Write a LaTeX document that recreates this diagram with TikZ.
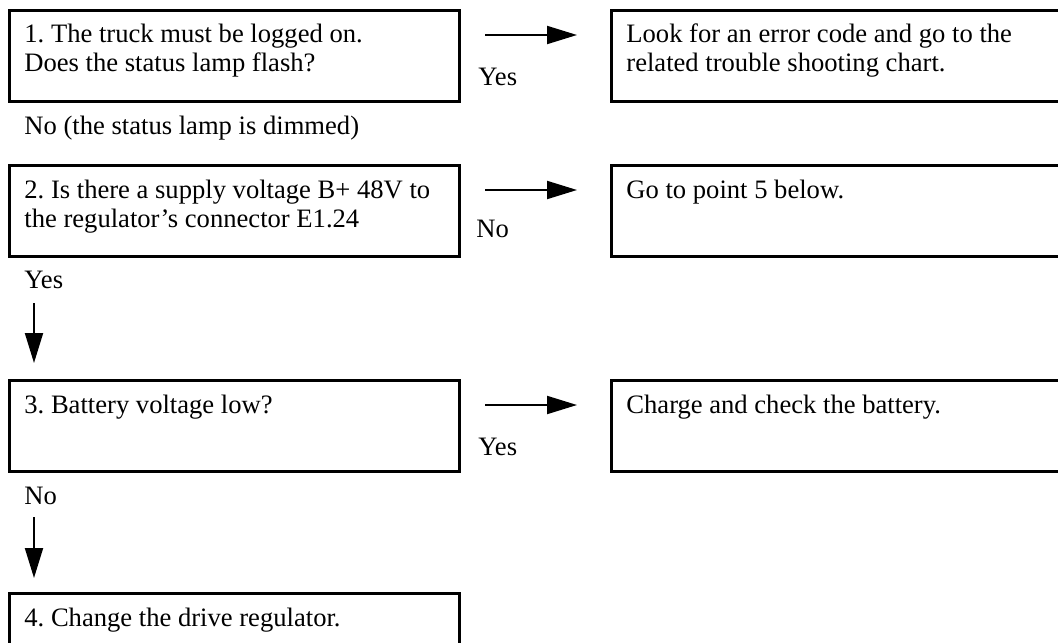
\documentclass[tikz,border=0pt]{standalone}
\usepackage{fontspec}
\setmainfont{Liberation Serif}
\usetikzlibrary{arrows.meta}
\frenchspacing
\begin{document}
\begin{tikzpicture}[x=0.5pt,y=-0.5pt,
  box/.style={draw, line width=1.5pt, anchor=north west, inner sep=0pt, minimum height=45.5pt},
  qbox/.style={box, minimum width=225pt},
  abox/.style={box, minimum width=260pt},
  lastbox/.style={box, minimum width=225pt, minimum height=60pt},
  txt/.style={anchor=base west, inner sep=0pt, font=\fontsize{13.3}{14.5}\selectfont},
  flow/.style={line width=1pt, -{Triangle[length=15pt,width=9pt]}}]
\useasboundingbox (0,0) rectangle (1058,642);
\clip (0,0) rectangle (1058,642);

% step 1
\node[qbox] (b1) at (8,9) {};
\node[txt] (t1a) at (24,43) {1. The truck must be logged on.};
\node[txt] (t1b) at (24,72) {Does the status lamp flash?};
\coordinate (a1s) at (485,35);
\coordinate (a1e) at (577,35);
\draw[flow] (a1s) -- (a1e);
\node[txt] (y1) at (478,85) {Yes};
\node[abox] (r1) at (610,9) {};
\node[txt] (r1a) at (626,43) {Look for an error code and go to the};
\node[txt] (r1b) at (626,72) {related trouble shooting chart.};
\node[txt] (n1) at (24,134) {No (the status lamp is dimmed)};

% step 2
\node[qbox] (b2) at (8,164) {};
\node[txt] (t2a) at (24,198) {2. Is there a supply voltage B+ 48V to};
\node[txt] (t2b) at (24,227) {the regulator's connector E1.24};
\coordinate (a2s) at (485,190);
\coordinate (a2e) at (577,190);
\draw[flow] (a2s) -- (a2e);
\node[txt] (n2) at (476,237) {No};
\node[abox] (r2) at (610,164) {};
\node[txt] (r2a) at (626,198) {Go to point 5 below.};
\node[txt] (y2) at (24,288) {Yes};
\coordinate (d2s) at (34,303);
\coordinate (d2e) at (34,363);
\draw[flow] (d2s) -- (d2e);

% step 3
\node[qbox] (b3) at (8,379) {};
\node[txt] (t3a) at (24,413) {3. Battery voltage low?};
\coordinate (a3s) at (485,405);
\coordinate (a3e) at (577,405);
\draw[flow] (a3s) -- (a3e);
\node[txt] (y3) at (478,455) {Yes};
\node[abox] (r3) at (610,379) {};
\node[txt] (r3a) at (626,413) {Charge and check the battery.};
\node[txt] (n3) at (24,504) {No};
\coordinate (d3s) at (34,517);
\coordinate (d3e) at (34,578);
\draw[flow] (d3s) -- (d3e);

% step 4
\node[lastbox] (b4) at (8,592) {};
\node[txt] (t4a) at (24,626) {4. Change the drive regulator.};
\end{tikzpicture}
\end{document}
